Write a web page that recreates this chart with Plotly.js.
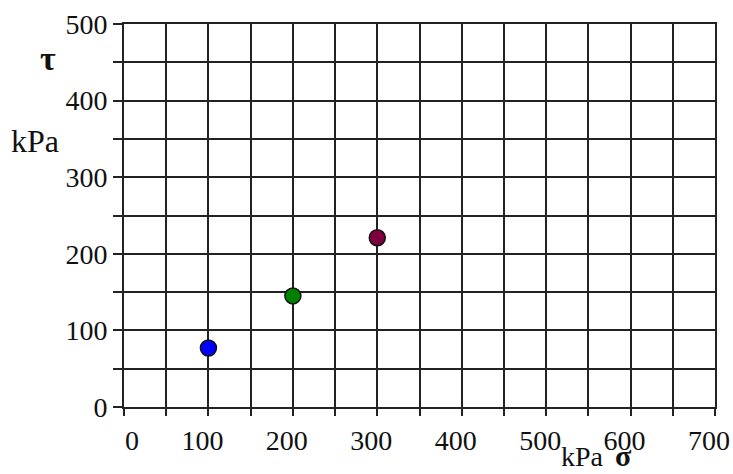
<!DOCTYPE html>
<html>
<head>
<meta charset="utf-8">
<script src="https://cdn.plot.ly/plotly-3.0.1.min.js"></script>
<style>html,body{margin:0;padding:0;background:#fff;}#chart{width:733px;height:474px;}</style>
</head>
<body>
<div id="chart"></div>
<script>
// Data
const sigma = [100, 200, 300];          // normal stress, kPa
const tau = [77, 145, 221];             // shear stress, kPa
const pointColors = ["#0000ff", "#008000", "#7f003f"];
const xTickVals = [0, 50, 100, 150, 200, 250, 300, 350, 400, 450, 500, 550, 600, 650, 700];
const xTickText = ["\u00a0\u00a0\u00a0\u00a00", "", "100", "", "200", "", "300", "", "400", "", "500", "", "600", "", "700"];
const yTickVals = [0, 50, 100, 150, 200, 250, 300, 350, 400, 450, 500];
const yTickText = ["0", "", "100", "", "200", "", "300", "", "400", "", "500"];

const serif = "Liberation Serif";
const gridCol = "#222222";

const trace = {
  x: sigma,
  y: tau,
  type: "scatter",
  mode: "markers",
  marker: { size: 16, color: pointColors, line: { color: "#111", width: 1.5 } },
  hoverinfo: "none",
  showlegend: false
};

const axisCommon = {
  showgrid: true,
  gridcolor: gridCol,
  gridwidth: 2,
  zeroline: false,
  showline: true,
  linecolor: gridCol,
  linewidth: 2,
  mirror: true,
  ticks: "outside",
  tickcolor: gridCol,
  tickwidth: 2,
  tickmode: "array",
  tickfont: { family: serif, size: 28, color: "#111" },
  fixedrange: true
};

const layout = {
  width: 733,
  height: 474,
  margin: { l: 124, r: 18, t: 24, b: 67 },
  paper_bgcolor: "#ffffff",
  plot_bgcolor: "#ffffff",
  font: { family: serif },
  hovermode: false,
  xaxis: Object.assign({}, axisCommon, {
    range: [0, 700],
    tickvals: xTickVals,
    ticktext: xTickText,
    ticklen: 7,
    ticklabelshift: -6
  }),
  yaxis: Object.assign({}, axisCommon, {
    range: [0, 500],
    tickvals: yTickVals,
    ticktext: yTickText,
    ticklen: 9
  }),
  annotations: [
    { text: "<b>τ</b>", xref: "paper", yref: "paper", x: -0.128, y: 0.91, xanchor: "center", yanchor: "middle", showarrow: false, font: { family: serif, size: 34, color: "#111" } },
    { text: "kPa", xref: "paper", yref: "paper", x: -0.195, y: 0.695, xanchor: "left", yanchor: "middle", showarrow: false, font: { family: serif, size: 32, color: "#111" } },
    { text: "kPa", xref: "paper", yref: "paper", x: 0.776, y: -0.175, xanchor: "center", yanchor: "bottom", showarrow: false, font: { family: serif, size: 28, color: "#111" } },
    { text: "<b>σ</b>", xref: "paper", yref: "paper", x: 0.846, y: -0.175, xanchor: "center", yanchor: "bottom", showarrow: false, font: { family: serif, size: 30, color: "#111" } }
  ]
};

Plotly.newPlot("chart", [trace], layout, { displayModeBar: false });
</script>
</body>
</html>
